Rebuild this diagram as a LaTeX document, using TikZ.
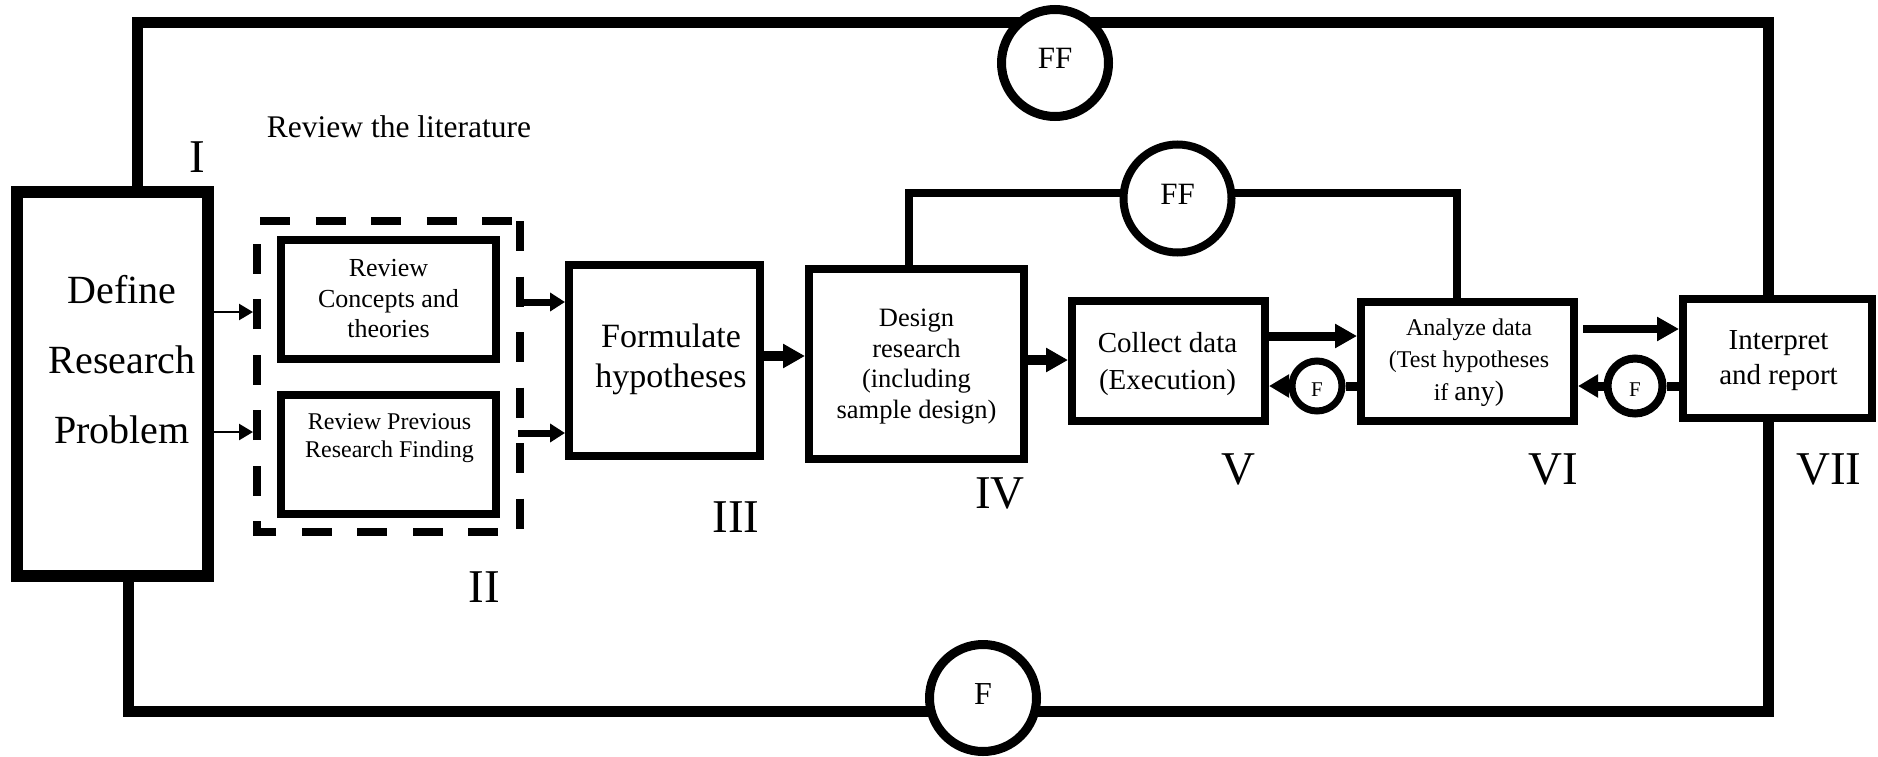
\documentclass[tikz,border=0pt]{standalone}
\usepackage{fontspec}
\setmainfont{Liberation Serif}
\usetikzlibrary{arrows.meta,calc}

\begin{document}
\begin{tikzpicture}[x=1pt,y=-1pt,
  box/.style={draw, rectangle, line width=8pt, inner sep=0pt, fill=white},
  bigbox/.style={box, line width=12pt},
  txt/.style={align=center, inner sep=0pt},
  numeral/.style={inner sep=0pt, font=\fontsize{47}{50}\selectfont},
  frameline/.style={line width=11pt},
  loopline/.style={line width=8pt},
  litdash/.style={line width=8pt, dash pattern=on 30pt off 25.5pt},
  ring/.style={draw, circle, fill=white, inner sep=0pt},
  thinarrow/.style={line width=2.5pt, -{Triangle[length=14pt,width=16pt]}},
  midarrow/.style={line width=7pt, -{Triangle[length=15pt,width=18pt]}},
  bigarrow/.style={line width=10pt, -{Triangle[length=22pt,width=23pt]}},
  fbline/.style={line width=9pt},
  fbarrow/.style={line width=9pt, -{Triangle[length=20pt,width=22pt]}}
]
\fill[white] (0,0) rectangle (1878,757);
\useasboundingbox (0,0) rectangle (1878,757);

% ---- process boxes ----
\node[bigbox, minimum width=191pt, minimum height=384pt] (def) at (112.5,384) {};
\node[txt, font=\fontsize{40}{70}\selectfont] (def-t) at (122,360) {Define\\Research\\Problem};

\node[box, minimum width=215pt, minimum height=119pt] (rc) at (388.5,299.5) {};
\node[txt, font=\fontsize{26}{30.5}\selectfont] (rc-t) at (388.5,299) {Review\\Concepts and\\theories};

\node[box, minimum width=215pt, minimum height=119pt] (rp) at (388.5,454.5) {};
\node[txt, font=\fontsize{24}{28}\selectfont] (rp-t) at (389.5,438.5) {Review Previous\\Research Finding};

% literature review group (dashed outline)
\node[inner sep=0pt, outer sep=0pt, minimum width=263pt, minimum height=311pt] (lit) at (388.5,376.5) {};
\draw[litdash] (lit.north east) -- (lit.south east) -- (lit.south west) -- (lit.north west) -- cycle;

\node[box, minimum width=191pt, minimum height=191pt] (form) at (664.5,360.5) {};
\node[txt, font=\fontsize{34}{40}\selectfont] (form-t) at (671,359) {Formulate\\hypotheses};

\node[box, minimum width=215pt, minimum height=190pt] (des) at (916.5,364) {};
\node[txt, font=\fontsize{26.5}{30.5}\selectfont] (des-t) at (916.5,366.5) {Design\\research\\(including\\sample design)};

\node[box, minimum width=193pt, minimum height=120pt] (col) at (1168.5,361) {};
\node[txt, font=\fontsize{29}{37}\selectfont] (col-t) at (1167.5,364) {Collect data\\(Execution)};

\node[box, minimum width=213pt, minimum height=119pt] (ana) at (1467.5,361.5) {};
\node[txt, font=\fontsize{24}{31.5}\selectfont] (ana-t) at (1469,363) {Analyze data\\(Test hypotheses\\[2pt]if {\fontsize{28}{31.5}\selectfont any)}};

\node[box, minimum width=189pt, minimum height=119pt] (int) at (1777.5,358.5) {};
\node[txt, font=\fontsize{29}{35}\selectfont] (int-t) at (1778.5,361) {Interpret\\and report};

% ---- outer feedback frame ----
\coordinate (tl) at (137,22.5);
\coordinate (tr) at (1768,22.5);
\coordinate (br) at (1768,711);
\coordinate (bl) at (128,711);
\draw[frameline] (def.north -| tl) -- (tl) -- (tr) -- (int.north -| tr);
\draw[frameline] (int.south -| tr) -- (br) -- (bl) -- (def.south -| bl);

% ---- inner feedback loop (design <-> analysis) ----
\coordinate (ffl) at (909,192.5);
\coordinate (ffr) at (1457,192.5);
\draw[loopline] (des.north -| ffl) -- (ffl) -- (ffr) -- (ana.north -| ffr);

% ---- feedback circles ----
\node[ring, line width=9pt, minimum size=107pt, font=\fontsize{31}{31}\selectfont, text depth=9pt] (topff) at (1055,63) {FF};
\node[ring, line width=8pt, minimum size=108pt, font=\fontsize{31}{31}\selectfont, text depth=9pt] (midff) at (1177.5,198.5) {FF};
\node[ring, line width=9pt, minimum size=107pt, font=\fontsize{32}{32}\selectfont, text depth=8pt] (botf) at (983,698) {F};
\node[ring, line width=7pt, minimum size=50pt, font=\fontsize{21}{21}\selectfont, text height=20pt] (f1) at (1317,386) {F};
\node[ring, line width=8pt, minimum size=55pt, font=\fontsize{21}{21}\selectfont, text height=20pt] (f2) at (1635,386) {F};

% ---- forward flow ----
\draw[thinarrow] (def.east |- 0,312) -- ($(lit.west |- 0,312)+(-4,0)$);
\draw[thinarrow] (def.east |- 0,432) -- ($(lit.west |- 0,432)+(-4,0)$);
\draw[midarrow] ($(lit.east |- 0,302)+(-2,0)$) -- (form.west |- 0,302);
\draw[midarrow] ($(lit.east |- 0,433)+(-2,0)$) -- (form.west |- 0,433);
\draw[bigarrow] (form.east |- 0,356) -- (des.west |- 0,356);
\draw[bigarrow] (des.east |- 0,360) -- (col.west |- 0,360);
\draw[bigarrow, line width=9pt] (col.east |- 0,336) -- (ana.west |- 0,336);
\draw[bigarrow, line width=8pt] ($(ana.east |- 0,329)+(5,0)$) -- (int.west |- 0,329);

% ---- local feedback ----
\draw[fbline] (ana.west |- f1) -- (f1);
\draw[fbarrow] (f1) -- (col.east |- f1);
\draw[fbline] (int.west |- f2) -- (f2);
\draw[fbarrow] (f2) -- (ana.east |- f2);

% ---- labels ----
\node[inner sep=0pt, font=\fontsize{31.5}{34}\selectfont] (lit-lbl) at (399,127) {Review the literature};
\node[numeral] (n1) at (197,157) {I};
\node[numeral] (n2) at (484,587) {II};
\node[numeral] (n3) at (736,517) {III};
\node[numeral] (n4) at (1000,493) {IV};
\node[numeral] (n5) at (1238,469) {V};
\node[numeral] (n6) at (1553,469) {VI};
\node[numeral] (n7) at (1829,469) {VII};
\end{tikzpicture}
\end{document}
